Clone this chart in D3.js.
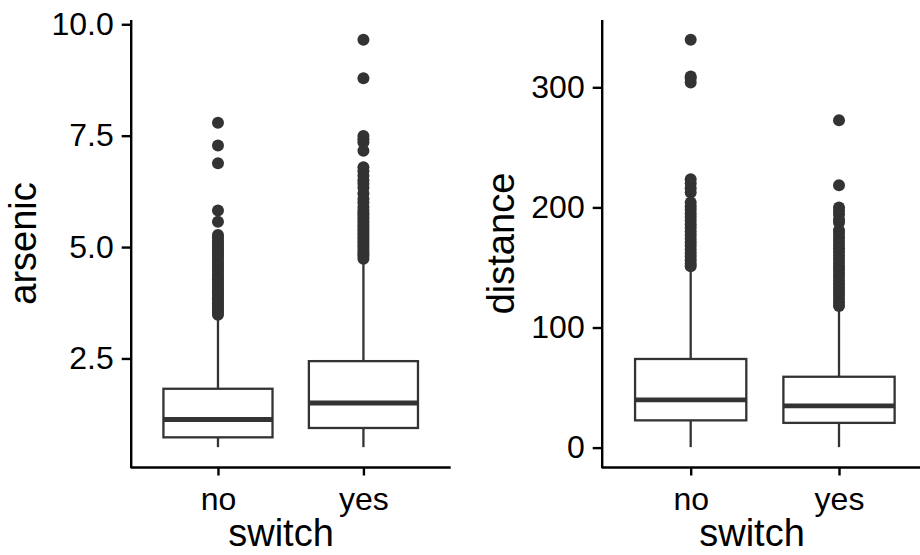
<!DOCTYPE html>
<html lang="en">
<head>
    <meta charset="UTF-8">
    <title>Wells: arsenic and distance by switch</title>
    <script src="https://d3js.org/d3.v7.min.js"></script>
    <style>
        body { margin: 0; background: #fff; }
        svg { display: block; font-family: "Liberation Sans", Arial, sans-serif; }
        .axis path, .axis line { stroke: #000; stroke-width: 2.4; fill: none; }
        .axis text { fill: #000; font-size: 32px; }
        .title { fill: #000; font-size: 38px; }
    </style>
</head>
<body>
    <div id="chart"></div>

    <script>
        // groups on the x axis
        var groups = ["no", "yes"];

        // box stats: lower whisker, Q1, median, Q3, upper whisker
        var arsenicNo  = [0.51, 0.73, 1.13, 1.82, 3.38];
        var arsenicYes = [0.51, 0.94, 1.50, 2.44, 4.70];
        var distanceNo  = [0.4, 22.7, 39.8, 73.8, 150.0];
        var distanceYes = [0.4, 20.6, 34.8, 59.0, 116.0];

        // outliers
        var arsenicNoOut = [7.79, 7.28, 6.88, 5.82, 5.57, 5.27, 5.22, 5.15, 5.10, 5.04, 4.98, 4.93,
            4.88, 4.82, 4.77, 4.71, 4.65, 4.60, 4.55, 4.49, 4.44, 4.38, 4.33, 4.28, 4.22, 4.17,
            4.11, 4.06, 4.01, 3.96, 3.90, 3.85, 3.80, 3.74, 3.69, 3.64, 3.58, 3.53, 3.48];
        var arsenicYesOut = [9.65, 8.79, 7.49, 7.42, 7.35, 7.16, 6.79, 6.70, 6.60, 6.50, 6.42,
            6.33, 6.20, 6.08, 6.00, 5.90, 5.82, 5.76, 5.70, 5.64, 5.58, 5.52, 5.46, 5.40, 5.34,
            5.28, 5.22, 5.16, 5.10, 5.04, 4.98, 4.92, 4.86, 4.80, 4.74];
        var distanceNoOut = [339.5, 309.0, 307.5, 304.0, 223.5, 220.0, 216.0, 212.5, 204.0,
            201.0, 198.0, 195.0, 192.0, 189.0, 186.0, 183.0, 180.0, 177.0, 174.0, 171.0, 168.0,
            165.0, 162.0, 159.0, 156.0, 153.0, 151.0];
        var distanceYesOut = [272.5, 218.5, 200.0, 197.0, 194.0, 190.0, 187.5, 181.0, 178.0,
            175.0, 172.0, 169.0, 166.0, 163.0, 160.0, 157.0, 154.0, 151.0, 148.0, 145.0, 142.0,
            139.0, 136.0, 133.0, 130.0, 127.0, 124.0, 121.0, 118.0];

        var arsenicTicks = [2.5, 5.0, 7.5, 10.0];
        var distanceTicks = [0, 100, 200, 300];

        var width = 920, height = 555;
        var dark = "#333333";

        var svg = d3.select("#chart").append("svg")
                    .attr("width", width)
                    .attr("height", height);

        svg.append("rect").attr("width", width).attr("height", height).attr("fill", "#fff");

        function drawPanel(opts) {
            var stats = opts.stats, outs = opts.outliers;
            var lo = d3.min(stats, function(s) { return s[0]; });
            var hi = d3.max(outs, function(o) { return d3.max(o); });
            var pad = (hi - lo) * 0.05;

            var x = d3.scalePoint()
                      .domain(groups)
                      .range([opts.left, opts.right])
                      .padding(0.6);
            var step = x.step();

            var y = d3.scaleLinear()
                      .domain([lo - pad, hi + pad])
                      .range([opts.bottom, opts.top]);

            var g = svg.append("g");

            groups.forEach(function(grp, i) {
                var s = stats[i];
                var cx = x(grp);
                var bw = step * 0.75;

                // whiskers
                g.append("line")
                 .attr("x1", cx).attr("x2", cx)
                 .attr("y1", y(s[0])).attr("y2", y(s[1]))
                 .attr("stroke", dark).attr("stroke-width", 2.3);
                g.append("line")
                 .attr("x1", cx).attr("x2", cx)
                 .attr("y1", y(s[3])).attr("y2", y(s[4]))
                 .attr("stroke", dark).attr("stroke-width", 2.3);

                // box
                g.append("rect")
                 .attr("x", cx - bw / 2)
                 .attr("y", y(s[3]))
                 .attr("width", bw)
                 .attr("height", y(s[1]) - y(s[3]))
                 .attr("fill", "#fff")
                 .attr("stroke", dark)
                 .attr("stroke-width", 2.3);

                // median
                g.append("line")
                 .attr("x1", cx - bw / 2).attr("x2", cx + bw / 2)
                 .attr("y1", y(s[2])).attr("y2", y(s[2]))
                 .attr("stroke", dark).attr("stroke-width", 4.8);

                // outliers
                g.selectAll(null)
                 .data(outs[i])
                 .enter().append("circle")
                 .attr("cx", cx)
                 .attr("cy", function(d) { return y(d); })
                 .attr("r", 6)
                 .attr("fill", dark);
            });

            var xAxis = svg.append("g")
                           .attr("class", "axis")
                           .attr("transform", "translate(0," + opts.bottom + ")")
                           .call(d3.axisBottom(x).tickSize(8).tickPadding(9).tickSizeOuter(0));
            xAxis.select(".domain").attr("d", "M" + opts.left + ",0H" + opts.right);
            xAxis.selectAll("text").attr("dy", "0.8em");

            svg.append("g")
               .attr("class", "axis")
               .attr("transform", "translate(" + opts.left + ",0)")
               .call(d3.axisLeft(y).tickValues(opts.ticks).tickFormat(opts.fmt)
                       .tickSize(9).tickPadding(8).tickSizeOuter(0));

            svg.append("text")
               .attr("class", "title")
               .attr("x", opts.xTitleX)
               .attr("y", 546)
               .attr("text-anchor", "middle")
               .text("switch");

            svg.append("text")
               .attr("class", "title")
               .attr("transform", "translate(" + opts.titleX + "," + (opts.top + opts.bottom) / 2 + ") rotate(-90)")
               .attr("text-anchor", "middle")
               .text(opts.label);
        }

        drawPanel({
            left: 130.7, right: 450.7, top: 19.5, bottom: 467.5,
            stats: [arsenicNo, arsenicYes],
            outliers: [arsenicNoOut, arsenicYesOut],
            ticks: arsenicTicks, fmt: d3.format(".1f"),
            label: "arsenic", titleX: 36, xTitleX: 281
        });

        drawPanel({
            left: 601.7, right: 928, top: 19.5, bottom: 467.5,
            stats: [distanceNo, distanceYes],
            outliers: [distanceNoOut, distanceYesOut],
            ticks: distanceTicks, fmt: d3.format("d"),
            label: "distance", titleX: 514, xTitleX: 752
        });
    </script>
</body>
</html>
